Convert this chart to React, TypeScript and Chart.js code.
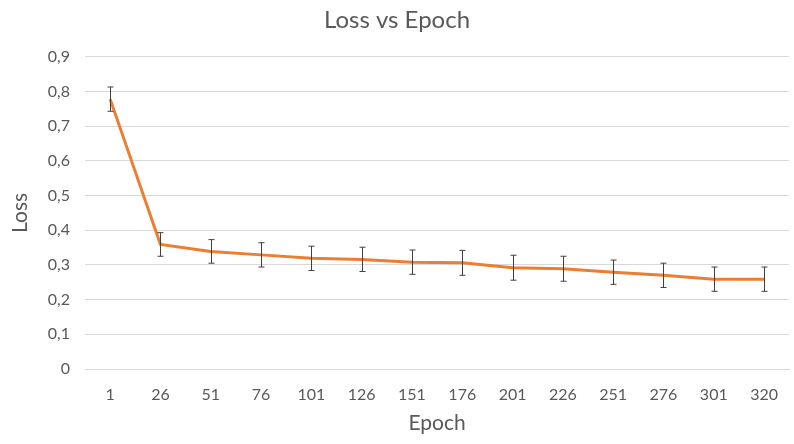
import { Chart, ChartConfiguration, Plugin, registerables } from "chart.js";
import { useEffect, useRef } from "react";

Chart.register(...registerables);

const epochs = ["1", "26", "51", "76", "101", "126", "151", "176", "201", "226", "251", "276", "301", "320"];
const lossValues = [0.778, 0.359, 0.339, 0.329, 0.319, 0.316, 0.308, 0.306, 0.292, 0.289, 0.279, 0.27, 0.259, 0.259];
const lossErrors = [0.035, 0.034, 0.034, 0.035, 0.035, 0.035, 0.035, 0.036, 0.036, 0.036, 0.035, 0.035, 0.035, 0.035];

const FONT = "Lato, 'Open Sans', sans-serif";
const TEXT = "#595959";

// draws the +/- error bars on top of the line
const errorBars: Plugin<"line"> = {
  id: "errorBars",
  afterDatasetsDraw(chart) {
    const { ctx, scales } = chart;
    const x = scales.x;
    const y = scales.y;
    ctx.save();
    ctx.strokeStyle = "#404040";
    ctx.lineWidth = 1;
    lossValues.forEach((v, i) => {
      const px = Math.round(x.getPixelForValue(i)) + 0.5;
      const top = y.getPixelForValue(v + lossErrors[i]);
      const bot = y.getPixelForValue(v - lossErrors[i]);
      ctx.beginPath();
      ctx.moveTo(px, top);
      ctx.lineTo(px, bot);
      ctx.moveTo(px - 3, top);
      ctx.lineTo(px + 3, top);
      ctx.moveTo(px - 3, bot);
      ctx.lineTo(px + 3, bot);
      ctx.stroke();
    });
    ctx.restore();
  },
};

const LossChart = () => {
  const chartRef = useRef<HTMLCanvasElement>(null);

  useEffect(() => {
    document.body.style.margin = "0";
    if (!chartRef.current) return;
    const context = chartRef.current.getContext("2d");
    if (!context) return;

    const config: ChartConfiguration<"line"> = {
      type: "line",
      data: {
        labels: epochs,
        datasets: [
          {
            label: "Loss",
            data: lossValues,
            borderColor: "#ED7D31",
            backgroundColor: "#ED7D31",
            borderWidth: 3,
            pointRadius: 0,
            tension: 0,
            fill: false,
          },
        ],
      },
      options: {
        responsive: false,
        animation: false,
        layout: { padding: { left: 0, right: 0, top: 0, bottom: 0 } },
        plugins: {
          legend: { display: false },
          tooltip: { enabled: false },
          title: {
            display: true,
            text: "Loss vs Epoch",
            color: TEXT,
            font: { family: FONT, size: 24, weight: "normal" },
            padding: { top: 6, bottom: 22 },
          },
        },
        scales: {
          x: {
            offset: true,
            grid: { display: false, drawTicks: false },
            border: { display: true, color: "#D9D9D9", width: 1 },
            ticks: {
              color: TEXT,
              font: { family: FONT, size: 16 },
              padding: 16,
              maxRotation: 0,
              autoSkip: false,
            },
            title: {
              display: true,
              text: "Epoch",
              color: TEXT,
              font: { family: FONT, size: 21 },
              padding: { top: 0, bottom: 8 },
            },
            afterFit: (s) => {
              s.height = 75;
            },
          },
          y: {
            min: 0,
            max: 0.9,
            grid: { color: "#D9D9D9", drawTicks: false },
            border: { display: false },
            ticks: {
              stepSize: 0.1,
              color: TEXT,
              font: { family: FONT, size: 16 },
              padding: 15,
              callback: (v) => String(Math.round(Number(v) * 10) / 10).replace(".", ","),
            },
            title: {
              display: true,
              text: "Loss",
              color: TEXT,
              font: { family: FONT, size: 21 },
              padding: { top: 8, bottom: 0 },
            },
            afterFit: (s) => {
              s.width = 85;
            },
          },
        },
      },
      plugins: [errorBars],
    };

    const chartInstance = new Chart(context, config);
    return () => {
      chartInstance.destroy();
    };
  }, []);

  return <canvas ref={chartRef} width={794} height={444} style={{ display: "block" }} />;
};

export default function App() {
  return (
    <div style={{ width: 794, height: 444, background: "#fff" }}>
      <LossChart />
    </div>
  );
}
